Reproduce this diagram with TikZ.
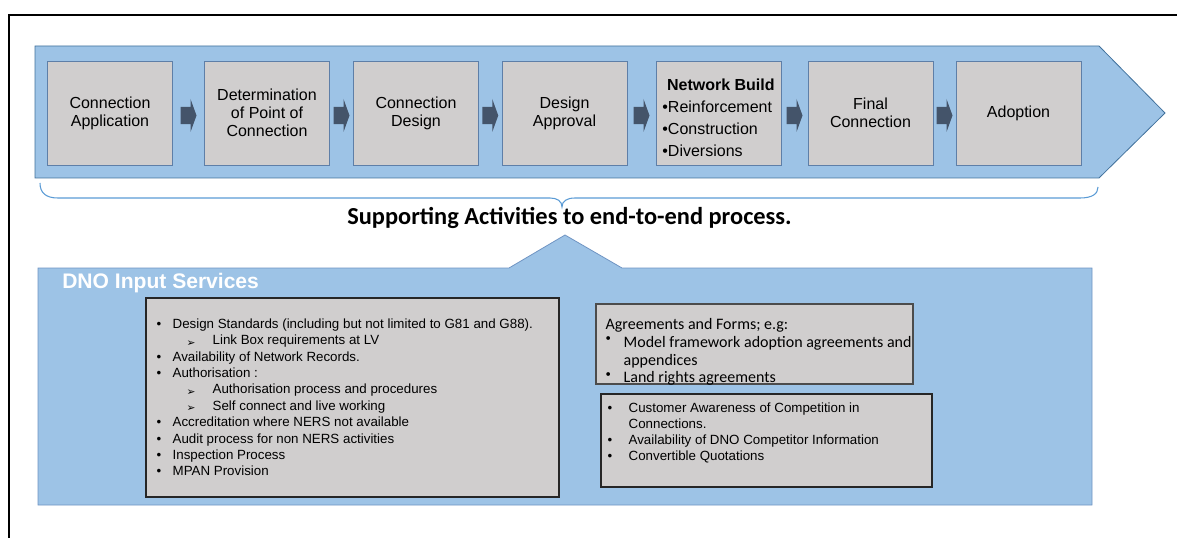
\documentclass[tikz,border=0pt]{standalone}
\usepackage{fontspec}
\setmainfont{Liberation Sans}
\newfontfamily\calibri{Carlito}
\newfontfamily\dejavu{DejaVu Sans}
\usepackage{tikz}
\usetikzlibrary{calc,positioning}

\definecolor{bandblue}{HTML}{9DC3E6}
\definecolor{bandline}{HTML}{41719C}
\definecolor{lowline}{HTML}{6F94C3}
\definecolor{boxgray}{HTML}{D0CECE}
\definecolor{boxline}{HTML}{5E7FA8}
\definecolor{arrowc}{HTML}{44546A}
\definecolor{bracec}{HTML}{5B9BD5}

\newcommand{\bitem}[2]{\makebox[#1][l]{•}#2}
\newcommand{\aitem}[1]{\hspace*{22.5pt}\makebox[19.5pt][l]{\raisebox{-1pt}{\dejavu\footnotesize ➢}}#1}
\newcommand{\ritem}[1]{\makebox[13.5pt][l]{\raisebox{4pt}{\footnotesize•}}#1}

\begin{document}
\begin{tikzpicture}[x=0.75pt,y=-0.75pt]
		\tikzset{stepbox/.style={rectangle,draw=boxline,fill=boxgray,line width=0.6pt,
				minimum width=93.75pt,minimum height=78pt,inner sep=0pt,align=center,
				font=\fontsize{12}{13.6}\selectfont}};
		\tikzset{infobox/.style={rectangle,draw=black!85,fill=boxgray,line width=0.9pt,inner sep=0pt}};
		\tikzset{infotext/.style={anchor=north west,align=left,inner sep=0pt}};
		\tikzset{flowarrow/.pic={\fill[arrowc] (-8,-8.7) -- (2,-8.7) -- (2,-16.5) -- (8,0)
				-- (2,16.5) -- (2,8.7) -- (-8,8.7) -- cycle;}};
		
		\useasboundingbox (0,0) rectangle (1177,538);
		\clip (0,0) rectangle (1177,538);
		
		% frame
		\draw[line width=1.5pt] (9,560) -- (9,15) -- (1200,15);
		
		% end-to-end process
		\draw[fill=bandblue,draw=bandline,line width=0.6pt] (35,46) -- (1099,46) -- (1165,113)
			-- (1099,178) -- (35,178) -- cycle;
		
		\node[stepbox] (s1) at (110,113) {Connection\\Application};
		\node[stepbox] (s2) at (267,113) {Determination\\of Point of\\Connection};
		\node[stepbox] (s3) at (416,113) {Connection\\Design};
		\node[stepbox] (s4) at (564.5,113) {Design\\Approval};
		\node[stepbox] (s5) at (718.5,113) {};
		\node[align=left,inner sep=0pt,font=\fontsize{12}{16.5}\selectfont] (s5t) at ($(s5.center)+(0,4.5)$)
			{\hspace*{3.5pt}\textbf{Network Build}\\•Reinforcement\\•Construction\\•Diversions};
		\node[stepbox] (s6) at (870.5,113) {Final\\Connection};
		\node[stepbox] (s7) at (1018.5,113) {Adoption};
		
		\foreach \a/\b in {s1/s2,s2/s3,s3/s4,s4/s5,s5/s6,s6/s7}
		\path ($(\a.east)!0.5!(\b.west)$) ++(0,2.5) pic {flowarrow};
		
		% brace
		\draw[bracec,line width=0.8pt] (40,183) .. controls (40,193) and (46,198) .. (58,198)
			-- (550,198) .. controls (557,198) and (562,201) .. (562,207)
			.. controls (562,201) and (567,198) .. (575,198)
			-- (1080,198) .. controls (1092,198) and (1098,194) .. (1098,187);
		
		\node[anchor=base,font=\calibri\bfseries\fontsize{18.3}{20}\selectfont] (sup) at (569.5,225)
			{Supporting Activities to end-to-end process.};
		
		% DNO input services
		\draw[fill=bandblue,draw=lowline,line width=0.6pt] (38,268) -- (509,268) -- (565,235)
			-- (622,268) -- (1092,268) -- (1092,505) -- (38,505) -- cycle;
		\node[anchor=base west,text=white,inner sep=0pt,font=\bfseries\fontsize{15.8}{18}\selectfont]
			(dno) at (62,288) {DNO Input Services};
		
		\node[infobox,minimum width=309.75pt,minimum height=149.25pt] (ba) at (352.5,397.5) {};
		\node[infobox,draw=black!70,minimum width=237.75pt,minimum height=60pt] (bb) at (754.5,344) {};
		\node[infobox,minimum width=248.25pt,minimum height=69.75pt] (bc) at (766.5,440.5) {};
		
		\node[infotext,font=\fontsize{10}{12.3}\selectfont] (ta) at ($(ba.north west)+(11,21)$)
			{\bitem{12pt}{Design Standards (including but not limited to G81 and G88).}\\
			\aitem{Link Box requirements at LV}\\
			\bitem{12pt}{Availability of Network Records.}\\
			\bitem{12pt}{Authorisation :}\\
			\aitem{Authorisation process and procedures}\\
			\aitem{Self connect and live working}\\
			\bitem{12pt}{Accreditation where NERS not available}\\
			\bitem{12pt}{Audit process for non NERS activities}\\
			\bitem{12pt}{Inspection Process}\\
			\bitem{12pt}{MPAN Provision}};
		
		\node[infotext,font=\calibri\fontsize{12}{13.4}\selectfont] (tb) at ($(bb.north west)+(10,14.5)$)
			{Agreements and Forms; e.g:\\
			\ritem{Model framework adoption agreements and}\\
			\hspace*{13.5pt}appendices\\
			\ritem{Land rights agreements}};
		
		\node[infotext,font=\fontsize{10}{12}\selectfont] (tc) at ($(bc.north west)+(7,9)$)
			{\bitem{15.75pt}{Customer Awareness of Competition in}\\
			\hspace*{15.75pt}Connections.\\
			\bitem{15.75pt}{Availability of DNO Competitor Information}\\
			\bitem{15.75pt}{Convertible Quotations}};
\end{tikzpicture}
\end{document}
